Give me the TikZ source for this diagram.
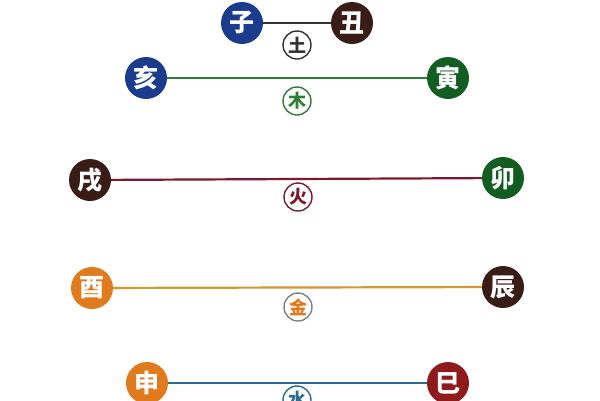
\documentclass[tikz,border=0pt]{standalone}
\usepackage{fontspec}
\newfontfamily\cjk{Noto Sans CJK SC}
\definecolor{zblue}{HTML}{1B3C8C}
\definecolor{zbrown}{HTML}{3A1C16}
\definecolor{zgreen}{HTML}{125E22}
\definecolor{zorange}{HTML}{E07A1C}
\definecolor{zred}{HTML}{8E1A1C}
\definecolor{lgray}{HTML}{333333}
\definecolor{lgreen}{HTML}{2E7D36}
\definecolor{lred}{HTML}{7A1A2C}
\definecolor{lgold}{HTML}{D4982F}
\definecolor{lblue}{HTML}{2C6A92}
\tikzset{
	zhi/.style={circle, fill=#1, minimum size=42pt, inner sep=0pt, text=white,
		font=\cjk\bfseries\fontsize{25}{25}\selectfont},
	xing/.style={circle, draw=#1, fill=white, text=#1, line width=1.4pt,
		minimum size=28pt, inner sep=0pt, font=\cjk\bfseries\fontsize{18}{18}\selectfont},
	he/.style={draw=#1, line width=2.2pt}
}
\begin{document}
\begin{tikzpicture}[x=1pt,y=-1pt]
	\useasboundingbox (0,0) rectangle (600,400);
	% zi - chou
	\node[zhi=zblue] (zi) at (242,23) {子};
	\node[zhi=zbrown] (chou) at (352,23) {丑};
	\draw[he=lgray] (zi) -- (chou);
	\node[xing=lgray] (tu) at (297,45) {土};
	% hai - yin
	\node[zhi=zblue] (hai) at (146,78) {亥};
	\node[zhi=zgreen] (yin) at (448,78) {寅};
	\draw[he=lgreen] (hai) -- (yin);
	\node[xing=lgreen] (mu) at (297,101) {木};
	% xu - mao
	\node[zhi=zbrown] (xu) at (90,180) {戌};
	\node[zhi=zgreen] (mao) at (503,178) {卯};
	\draw[he=lred] (xu) -- (mao);
	\node[xing=lred] (huo) at (298,197) {火};
	% you - chen
	\node[zhi=zorange] (you) at (92,288) {酉};
	\node[zhi=zbrown] (chen) at (503,287) {辰};
	\draw[he=lgold] (you) -- (chen);
	\node[xing=zorange, draw=gray] (jin) at (298,307) {金};
	% shen - si
	\node[zhi=zorange] (shen) at (147,383) {申};
	\node[zhi=zred] (si) at (448,383) {巳};
	\draw[he=lblue] (shen) -- (si);
	\node[xing=lblue] (shui) at (297,400) {水};
\end{tikzpicture}
\end{document}
